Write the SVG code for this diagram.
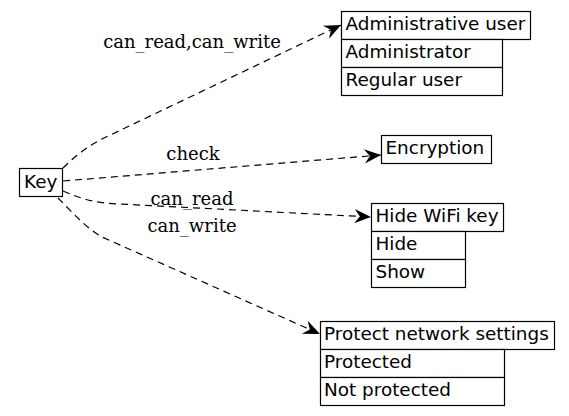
<svg xmlns="http://www.w3.org/2000/svg" width="569" height="416" viewBox="0 0 569 416">
<style>
.box{fill:#fff;stroke:#000;stroke-width:1.2}
.t{font-family:"DejaVu Sans","Liberation Sans",sans-serif;font-size:18.4px;fill:#000}
.lbl{font-family:"DejaVu Serif","Liberation Serif",serif;font-size:18px;fill:#000;text-anchor:middle}
.e{fill:none;stroke:#000;stroke-width:1.2;stroke-dasharray:7,5}
</style>
<defs>
<marker id="vee" markerUnits="userSpaceOnUse" markerWidth="20" markerHeight="20" viewBox="-16 -8 18 16" refX="0" refY="0" orient="auto">
<path d="M0,0 L-15,-6.5 L-10,0 L-15,6.5 Z" fill="#000"/>
</marker>
</defs>
<rect width="569" height="416" fill="#fff"/>
<g id="connectors">
<path class="e" d="M63,168 C74,157 88,146 102,139 L341,25" marker-end="url(#vee)"/>
<path class="e" d="M63,181 L381,155" marker-end="url(#vee)"/>
<path class="e" d="M63,191 C80,198 92,203 120,204 L371,217" marker-end="url(#vee)"/>
<path class="e" d="M58,198 C72,212 86,228 102,237 L320,334" marker-end="url(#vee)"/>
<text class="lbl" x="192" y="48">can_read,can_write</text>
<text class="lbl" x="193" y="160">check</text>
<text class="lbl" x="192" y="205">can_read</text>
<text class="lbl" x="192" y="232">can_write</text>
</g>
<g id="key">
<rect class="box" x="19.5" y="168.5" width="43" height="28"/>
<text class="t" x="24" y="188">Key</text>
</g>
<g id="admin">
<rect class="box" x="341.5" y="11.5" width="189" height="28"/>
<rect class="box" x="341.5" y="39.5" width="161" height="28"/>
<rect class="box" x="341.5" y="67.5" width="161" height="28"/>
<text class="t" x="345.5" y="30">Administrative user</text>
<text class="t" x="345.5" y="58">Administrator</text>
<text class="t" x="345.5" y="86">Regular user</text>
</g>
<g id="encryption">
<rect class="box" x="381.5" y="135.5" width="110" height="28"/>
<text class="t" x="385.5" y="154">Encryption</text>
</g>
<g id="hidewifi">
<rect class="box" x="371.5" y="203.5" width="132" height="28"/>
<rect class="box" x="371.5" y="231.5" width="94" height="28"/>
<rect class="box" x="371.5" y="259.5" width="94" height="28"/>
<text class="t" x="375.5" y="222">Hide WiFi key</text>
<text class="t" x="375.5" y="250">Hide</text>
<text class="t" x="375.5" y="278">Show</text>
</g>
<g id="protect">
<rect class="box" x="320.5" y="321.5" width="234" height="28"/>
<rect class="box" x="320.5" y="349.5" width="184" height="28"/>
<rect class="box" x="320.5" y="377.5" width="184" height="28"/>
<text class="t" x="324" y="340">Protect network settings</text>
<text class="t" x="324" y="368">Protected</text>
<text class="t" x="324" y="396">Not protected</text>
</g>
</svg>
